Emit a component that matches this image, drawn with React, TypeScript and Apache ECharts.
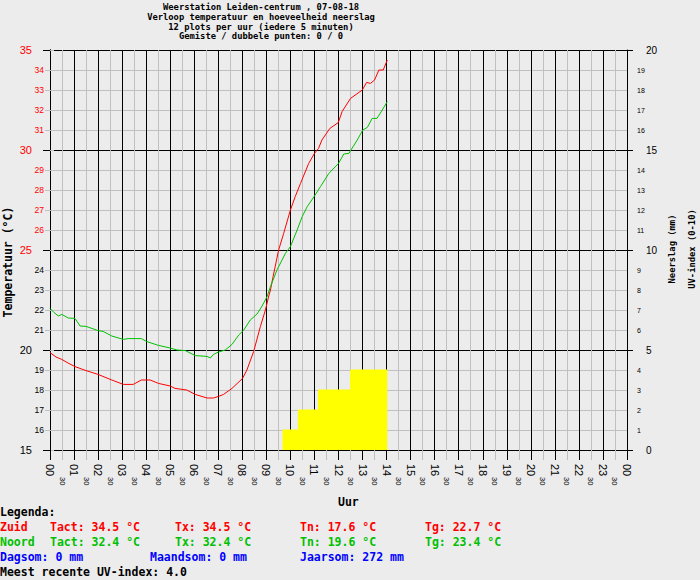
import React, { useEffect, useRef } from "react";
import * as echarts from "echarts";

// Zuid (red) temperature: [hour, °C]
const zuidData: [number, number][] = [
  [0.0, 19.87], [0.25, 19.65], [0.49, 19.53], [0.75, 19.35], [1.04, 19.17],
  [1.5, 18.97], [2.0, 18.78], [2.57, 18.5], [3.05, 18.28], [3.46, 18.28],
  [3.8, 18.5], [4.17, 18.5], [4.51, 18.33], [5.0, 18.2], [5.2, 18.08],
  [5.69, 18.0], [6.04, 17.78], [6.53, 17.6], [6.8, 17.6], [7.01, 17.68],
  [7.22, 17.78], [7.57, 18.08], [8.01, 18.58], [8.19, 19.0], [8.47, 19.92],
  [8.75, 21.17], [8.96, 22.0], [9.1, 22.7], [9.17, 23.0], [9.28, 23.67],
  [9.51, 25.0], [9.72, 25.83], [10.0, 27.0], [10.2, 27.67], [10.42, 28.33],
  [10.76, 29.33], [11.0, 29.83], [11.17, 30.08], [11.31, 30.5], [11.64, 31.08],
  [11.99, 31.37], [12.15, 31.92], [12.5, 32.58], [12.99, 33.0], [13.17, 33.38],
  [13.33, 33.33], [13.5, 33.5], [13.68, 34.0], [13.86, 34.0], [14.03, 34.5],
];

// Noord (green) temperature: [hour, °C]
const noordData: [number, number][] = [
  [0.0, 22.08], [0.17, 21.87], [0.35, 21.7], [0.49, 21.78], [0.76, 21.6],
  [1.04, 21.58], [1.25, 21.2], [1.5, 21.18], [2.0, 20.97], [2.21, 20.93],
  [2.57, 20.7], [3.05, 20.53], [3.25, 20.57], [3.8, 20.57], [4.03, 20.42],
  [4.51, 20.23], [5.0, 20.1], [5.28, 20.0], [5.63, 19.97], [6.04, 19.72],
  [6.53, 19.68], [6.67, 19.6], [6.8, 19.78], [7.01, 19.9], [7.29, 20.0],
  [7.57, 20.28], [7.85, 20.75], [8.06, 21.0], [8.33, 21.5], [8.61, 21.8],
  [8.72, 22.0], [8.82, 22.2], [9.03, 22.67], [9.17, 23.17], [9.44, 24.0],
  [9.79, 24.83], [10.0, 25.17], [10.28, 26.0], [10.49, 26.67], [10.7, 27.17],
  [11.0, 27.7], [11.25, 28.17], [11.6, 28.83], [12.0, 29.33], [12.22, 29.8],
  [12.43, 29.83], [12.78, 30.5], [13.01, 31.0], [13.2, 31.13], [13.4, 31.58],
  [13.6, 31.58], [13.82, 32.0], [14.03, 32.42],
];

// UV index (right axis): [hour, index]
const uvData: [number, number][] = [
  [9.67, 1], [10.33, 2], [11.17, 3], [12.5, 4], [14.03, 4],
];

const titleLines = [
  "Weerstation Leiden-centrum , 07-08-18",
  "Verloop temperatuur en hoeveelheid neerslag",
  "12 plots per uur (iedere 5 minuten)",
  "Gemiste / dubbele punten: 0 / 0",
];

const RED = "#ff0000";
const GREEN = "#00c000";
const BLUE = "#0000ff";
const GRAY = "#c0c0c0";
const MONO = "'DejaVu Sans Mono', monospace";
const SANS = "'Liberation Sans', Arial, sans-serif";

export default function App() {
  const ref = useRef<HTMLDivElement>(null);

  useEffect(() => {
    if (!ref.current) return;
    const chart = echarts.init(ref.current, null, { renderer: "svg" });

    const txt = (
      text: string,
      x: number,
      y: number,
      fill: string,
      size: number,
      align: string = "left",
      rotation = 0
    ) => ({
      type: "text",
      x,
      y,
      rotation,
      silent: true,
      style: {
        text,
        fill,
        font: `bold ${size}px ${MONO}`,
        textAlign: align,
        textVerticalAlign: "middle",
        verticalAlign: "middle",
      },
    });

    const titleY = [7, 17, 26.5, 36];
    const graphics: any[] = [
      ...titleLines.map((t, i) => txt(t, 261, titleY[i], "#000", 8.8, "center")),
      txt("Temperatuur (°C)", 8, 262, "#000", 11.5, "center", Math.PI / 2),
      txt("Neerslag (mm)", 672, 249, "#000", 8.8, "center", Math.PI / 2),
      txt("UV-index (0-10)", 692, 249, "#000", 8.8, "center", Math.PI / 2),
      txt("Uur", 338, 502, "#000", 11.5, "left"),
      txt("Legenda:", 0, 512, "#000", 11.5),
      txt("Zuid", 0, 527, RED, 11.5),
      txt("Tact: 34.5 °C", 50, 527, RED, 11.5),
      txt("Tx: 34.5 °C", 175, 527, RED, 11.5),
      txt("Tn: 17.6 °C", 300, 527, RED, 11.5),
      txt("Tg: 22.7 °C", 425, 527, RED, 11.5),
      txt("Noord", 0, 542, GREEN, 11.5),
      txt("Tact: 32.4 °C", 50, 542, GREEN, 11.5),
      txt("Tx: 32.4 °C", 175, 542, GREEN, 11.5),
      txt("Tn: 19.6 °C", 300, 542, GREEN, 11.5),
      txt("Tg: 23.4 °C", 425, 542, GREEN, 11.5),
      txt("Dagsom: 0 mm", 0, 557, BLUE, 11.5),
      txt("Maandsom: 0 mm", 150, 557, BLUE, 11.5),
      txt("Jaarsom: 272 mm", 300, 557, BLUE, 11.5),
      txt("Meest recente UV-index: 4.0", 0, 572, "#000", 11.5),
    ];

    const option: any = {
      animation: false,
      backgroundColor: "#ececec",
      grid: {
        left: 50,
        right: 73,
        top: 50,
        bottom: 130,
        containLabel: false,
        outerBoundsMode: "none",
      },
      graphic: graphics,
      xAxis: [
        {
          type: "value",
          position: "bottom",
          min: 0,
          max: 24,
          interval: 0.5,
          axisLine: { show: true, lineStyle: { color: "#000", width: 1 } },
          axisTick: { show: true, length: 10, lineStyle: { color: GRAY, width: 1 } },
          axisLabel: {
            show: true,
            rotate: -90,
            margin: 14,
            color: "#000",
            formatter: (v: number) => {
              const h = Math.round(v * 2) / 2;
              if (Number.isInteger(h)) {
                return `{h|${String(h % 24).padStart(2, "0")}}`;
              }
              return "{m|30}";
            },
            rich: {
              h: { fontSize: 11, fontFamily: SANS, color: "#000" },
              m: { fontSize: 7.5, fontFamily: SANS, color: "#000", padding: [0, 0, 0, 13] },
            },
          },
          splitLine: {
            show: true,
            lineStyle: { color: ["#000000", GRAY], width: 1 },
          },
        },
        {
          type: "value",
          position: "bottom",
          min: 0,
          max: 24,
          interval: 1,
          axisLine: { show: true, lineStyle: { color: "#000", width: 1 } },
          axisTick: { show: true, length: 10, lineStyle: { color: "#000", width: 1 } },
          axisLabel: { show: false },
          splitLine: { show: false },
        },
      ],
      yAxis: [
        {
          type: "value",
          position: "left",
          min: 15,
          max: 35,
          interval: 1,
          axisLine: { show: true, lineStyle: { color: "#000", width: 1 } },
          axisTick: { show: true, length: 5, lineStyle: { color: GRAY, width: 1 } },
          axisLabel: {
            show: true,
            margin: 6,
            formatter: (v: number) => {
              const major = v % 5 === 0;
              const red = v >= 25;
              const key = (major ? "M" : "m") + (red ? "r" : "k");
              return `{${key}|${v}}`;
            },
            rich: {
              Mr: { fontSize: 11, fontFamily: SANS, color: RED, padding: [0, 12, 0, 0] },
              Mk: { fontSize: 11, fontFamily: SANS, color: "#000", padding: [0, 12, 0, 0] },
              mr: { fontSize: 8.5, fontFamily: SANS, color: RED },
              mk: { fontSize: 8.5, fontFamily: SANS, color: "#000" },
            },
          },
          splitLine: {
            show: true,
            lineStyle: { color: ["#000000", GRAY, GRAY, GRAY, GRAY], width: 1 },
          },
        },
        {
          type: "value",
          position: "right",
          min: 0,
          max: 20,
          interval: 1,
          axisLine: { show: true, lineStyle: { color: "#000", width: 1 } },
          axisTick: { show: true, length: 4, lineStyle: { color: GRAY, width: 1 } },
          axisLabel: {
            show: true,
            margin: 10,
            formatter: (v: number) => (v % 5 === 0 ? `{M|${v}}` : `{m|${v}}`),
            rich: {
              M: { fontSize: 10, fontFamily: SANS, color: "#000", padding: [0, 0, 0, 9] },
              m: { fontSize: 7, fontFamily: SANS, color: "#000" },
            },
          },
          splitLine: { show: false },
        },
        {
          type: "value",
          position: "left",
          min: 15,
          max: 35,
          interval: 5,
          axisLine: { show: true, lineStyle: { color: "#000", width: 1 } },
          axisTick: { show: true, length: 7, lineStyle: { color: "#000", width: 1 } },
          axisLabel: { show: false },
          splitLine: { show: false },
        },
        {
          type: "value",
          position: "right",
          min: 0,
          max: 20,
          interval: 5,
          axisLine: { show: true, lineStyle: { color: "#000", width: 1 } },
          axisTick: { show: true, length: 6, lineStyle: { color: "#000", width: 1 } },
          axisLabel: { show: false },
          splitLine: { show: false },
        },
      ],
      series: [
        {
          name: "UV",
          type: "line",
          xAxisIndex: 0,
          yAxisIndex: 1,
          step: "end",
          data: uvData,
          showSymbol: false,
          symbol: "none",
          lineStyle: { color: "#ffff00", width: 1 },
          areaStyle: { color: "#ffff00", opacity: 1 },
          z: 2,
        },
        {
          name: "Zuid",
          type: "line",
          xAxisIndex: 0,
          yAxisIndex: 0,
          data: zuidData,
          showSymbol: false,
          symbol: "none",
          lineStyle: { color: RED, width: 1 },
          z: 3,
        },
        {
          name: "Noord",
          type: "line",
          xAxisIndex: 0,
          yAxisIndex: 0,
          data: noordData,
          showSymbol: false,
          symbol: "none",
          lineStyle: { color: GREEN, width: 1 },
          z: 3,
        },
      ],
    };

    chart.setOption(option);
    return () => chart.dispose();
  }, []);

  return (
    <div
      ref={ref}
      style={{ position: "fixed", left: 0, top: 0, width: 700, height: 580 }}
    />
  );
}
